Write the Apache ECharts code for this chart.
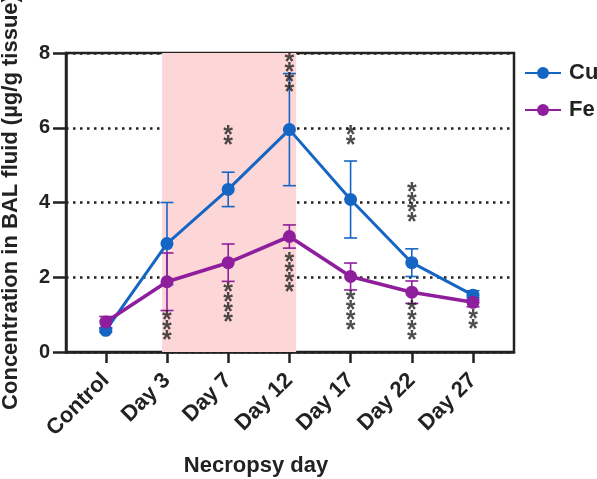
<!DOCTYPE html>
<html><head><meta charset="utf-8">
<script src="https://cdn.jsdelivr.net/npm/echarts@6/dist/echarts.min.js"></script>
<style>html,body{margin:0;padding:0;background:#fff}#c{width:597px;height:479px}</style>
</head><body><div id="c"></div>
<script>
const categories = ['Control','Day 3','Day 7','Day 12','Day 17','Day 22','Day 27'];
const cuMean = [0.58, 2.90, 4.35, 5.95, 4.08, 2.39, 1.52];
const cuSD   = [0.05, 1.10, 0.46, 1.50, 1.03, 0.37, 0.12];
const feMean = [0.80, 1.88, 2.39, 3.09, 2.02, 1.60, 1.33];
const feSD   = [0.15, 0.77, 0.50, 0.31, 0.36, 0.30, 0.12];
const cuStars = ['', '', '**', '****', '**', '****', ''];
const cuStarY = [null, null, 5.64, 7.33, 5.65, 3.84, null];
const feStars = ['', '***', '****', '****', '****', '****', '**'];
const feStarY = [null, 0.55, 1.17, 1.97, 0.96, 0.68, 0.71];
const shadedFrom = 'Day 3', shadedTo = 'Day 12';
const yTicks = [0, 2, 4, 6, 8];

const CU = '#1565C4', FE = '#8E1E9C', INK = '#222';
const idx = categories.map((c, i) => i);

function errorSeries(name, means, sds, color) {
  return {
    type: 'custom', name: name, silent: true, z: 1,
    data: means.map((m, i) => [i, m - sds[i], m + sds[i]]),
    encode: { x: 0, y: [1, 2] },
    renderItem: function (params, api) {
      const x = api.value(0);
      const lo = api.coord([x, api.value(1)]);
      const hi = api.coord([x, api.value(2)]);
      const w = 6.5;
      const st = { stroke: color, lineWidth: 1.6 };
      return { type: 'group', children: [
        { type: 'line', shape: { x1: lo[0], y1: lo[1], x2: hi[0], y2: hi[1] }, style: st },
        { type: 'line', shape: { x1: hi[0] - w, y1: hi[1], x2: hi[0] + w, y2: hi[1] }, style: st },
        { type: 'line', shape: { x1: lo[0] - w, y1: lo[1], x2: lo[0] + w, y2: lo[1] }, style: st }
      ]};
    }
  };
}
function starSeries(stars, ys) {
  const data = [];
  stars.forEach((s, i) => { if (s && ys[i] != null) data.push([i, ys[i], s]); });
  return {
    type: 'scatter', silent: true, symbolSize: 2, itemStyle: { color: 'rgba(0,0,0,0)' }, z: 5,
    data: data,
    label: {
      show: true, position: 'inside', color: INK, fontSize: 25, fontWeight: 'bold', lineHeight: 10,
      fontFamily: 'Liberation Sans, Arial, sans-serif', padding: [12, 0, 0, 0],
      formatter: p => p.value[2].split('').join('\n')
    },
    labelLayout: { hideOverlap: false }
  };
}

const chart = echarts.init(document.getElementById('c'), null, { renderer: 'canvas' });
chart.setOption({
  animation: false,
  backgroundColor: '#fff',
  textStyle: { fontFamily: 'Liberation Sans, Arial, sans-serif' },
  grid: { left: 66, right: 83, top: 53, bottom: 127, show: true, borderColor: INK, borderWidth: 2.5,
          containLabel: false, outerBoundsMode: 'none' },
  legend: {
    data: ['Cu', 'Fe'], orient: 'vertical', left: 519, top: 57,
    itemWidth: 36, itemHeight: 15, itemGap: 15,
    textStyle: { fontSize: 22, fontWeight: 'bold', color: INK, padding: [0, 0, 0, 3] }
  },
  xAxis: {
    type: 'value', min: -0.65, max: 6.67,
    axisLine: { show: true, onZero: false, lineStyle: { color: INK, width: 2.5 } },
    axisTick: { show: true, customValues: idx, length: 11, lineStyle: { color: INK, width: 2.5 } },
    axisLabel: {
      customValues: idx, formatter: v => categories[Math.round(v)] || '',
      rotate: 45, fontSize: 22, fontWeight: 'bold', color: INK, margin: 25
    },
    splitLine: { show: false },
    name: 'Necropsy day', nameLocation: 'middle', nameGap: 103,
    nameTextStyle: { fontSize: 22, fontWeight: 'bold', color: INK, padding: [0, 68, 0, 0] }
  },
  yAxis: {
    type: 'value', min: yTicks[0], max: yTicks[yTicks.length - 1], interval: 2,
    axisLine: { show: true, onZero: false, lineStyle: { color: INK, width: 2.5 } },
    axisTick: { show: true, length: 13, lineStyle: { color: INK, width: 2.5 } },
    axisLabel: { fontSize: 20, fontWeight: 'bold', color: INK, margin: 16 },
    splitLine: { show: true, lineStyle: { color: INK, width: 2.5, type: [2.5, 4.5] } },
    name: 'Concentration in BAL fluid (µg/g tissue)', nameLocation: 'middle', nameGap: 44,
    nameTextStyle: { fontSize: 22, fontWeight: 'bold', color: INK }
  },
  series: [
    {
      type: 'line', name: 'shade', z: -1, silent: true, data: [], symbol: 'none',
      markArea: {
        silent: true, itemStyle: { color: '#FDD7D8' },
        data: [[{ xAxis: categories.indexOf(shadedFrom) - 0.08 }, { xAxis: categories.indexOf(shadedTo) + 0.11 }]]
      }
    },
    errorSeries('Cu SD', cuMean, cuSD, CU),
    errorSeries('Fe SD', feMean, feSD, FE),
    {
      type: 'line', name: 'Cu', data: cuMean.map((v, i) => [i, v]), z: 3,
      symbol: 'circle', symbolSize: 13, color: CU,
      lineStyle: { width: 3, color: CU }, itemStyle: { color: CU }
    },
    {
      type: 'line', name: 'Fe', data: feMean.map((v, i) => [i, v]), z: 4,
      symbol: 'circle', symbolSize: 13, color: FE,
      lineStyle: { width: 3.6, color: FE }, itemStyle: { color: FE }
    },
    starSeries(cuStars, cuStarY),
    starSeries(feStars, feStarY)
  ]
});
</script></body></html>
